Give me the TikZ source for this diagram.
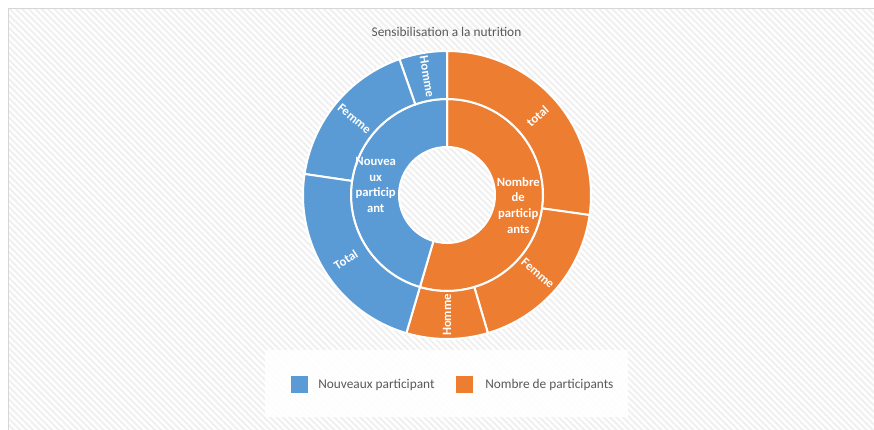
\documentclass[tikz,border=0pt]{standalone}
\usepackage{fontspec}
\setmainfont{Carlito}
\usetikzlibrary{patterns.meta}
\definecolor{cblue}{HTML}{5B9BD5}
\definecolor{corange}{HTML}{ED7D31}
\definecolor{ctext}{HTML}{595959}
\newcommand\sunsect[5]{%
  \fill[#1, draw=white, line width=1.5pt] (#2:#4) arc[start angle=#2, end angle=#3, radius=#4]
    -- (#3:#5) arc[start angle=#3, end angle=#2, radius=#5] -- cycle;}
\begin{document}
\begin{tikzpicture}[x=0.75pt,y=0.75pt,
  lab/.style={text=white, font=\fontsize{9.5}{11.8}\selectfont\bfseries, inner sep=0pt, align=center},
  legtext/.style={text=ctext, font=\fontsize{10}{12}\selectfont, inner sep=0pt, anchor=west},
  legsq/.style={inner sep=0pt, minimum size=12.75pt}]
\useasboundingbox (0,0) rectangle (874,-429);
\clip (0,0) rectangle (874,-429);
\fill[white] (0,0) rectangle (874,-429);
\fill[pattern={Lines[angle=-45,distance=3.4pt,line width=1.5pt]}, pattern color=black!6] (9,-9) rectangle (880,-440);
\draw[black!16, line width=1.2pt] (8.5,-440) -- (8.5,-8.5) -- (880,-8.5);

\node[text=ctext, font=\fontsize{10}{12}\selectfont, inner sep=0pt] (title) at (446.5,-31.5) {Sensibilisation a la nutrition};

\begin{scope}[shift={(447,-195)}]
  % inner ring
  \sunsect{corange}{-106.4}{90}{36pt}{72pt}
  \sunsect{cblue}{90}{253.6}{36pt}{72pt}
  % outer ring
  \sunsect{corange}{-8}{90}{72pt}{108pt}
  \sunsect{corange}{-73.5}{-8}{72pt}{108pt}
  \sunsect{corange}{-106.4}{-73.5}{72pt}{108pt}
  \sunsect{cblue}{90}{109.3}{72pt}{108pt}
  \sunsect{cblue}{109.3}{171.6}{72pt}{108pt}
  \sunsect{cblue}{171.6}{253.6}{72pt}{108pt}
  % labels
  \node[lab] (inb) at (172:54pt) {Nouvea\\ux\\particip\\ant};
  \node[lab] (ino) at (-8.2:54pt) {Nombre\\de\\particip\\ants};
  \node[lab, rotate=41] (ot) at (41:90pt) {total};
  \node[lab, rotate=-40.75] (of) at (-40.75:90pt) {Femme};
  \node[lab, rotate=90] (oh) at (-90:90pt) {Homme};
  \node[lab, rotate=-80.4] (bh) at (99.6:90pt) {Homme};
  \node[lab, rotate=-39.5] (bf) at (140.5:90pt) {Femme};
  \node[lab, rotate=32.6] (bt) at (212.6:90pt) {Total};
\end{scope}

% legend
\fill[white, opacity=0.9] (265,-350) rectangle (628,-417);
\node[legsq, fill=cblue] (lb) at (299.5,-384.5) {};
\node[legtext] (lbt) at (318,-384.5) {Nouveaux participant};
\node[legsq, fill=corange] (lo) at (464.5,-384.5) {};
\node[legtext] (lot) at (485,-384.5) {Nombre de participants};
\end{tikzpicture}
\end{document}
